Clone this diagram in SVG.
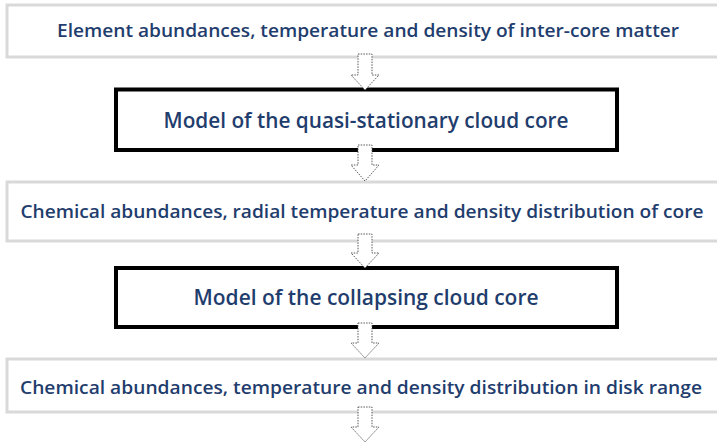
<svg xmlns="http://www.w3.org/2000/svg" width="717" height="445" viewBox="0 0 717 445">
<style>
.bg{fill:#ffffff}
.gbox{fill:#ffffff;stroke:#d9d9d9;stroke-width:3}
.kbox{fill:#ffffff;stroke:#000000;stroke-width:4}
.t{font-family:"Open Sans",Lato,"Liberation Sans",sans-serif;font-weight:600;fill:#1f3d6d;text-anchor:middle;dominant-baseline:central}
.s{font-size:18px}
.l{font-size:21px}
.arr{fill:#ffffff;stroke:#595959;stroke-width:1;stroke-dasharray:1.5 1.2}
</style>
<rect class="bg" x="0" y="0" width="717" height="445"/>
<g id="n1"><rect class="gbox" x="7" y="5" width="720" height="52"/><text class="t s" x="368" y="30" textLength="622" lengthAdjust="spacingAndGlyphs">Element abundances, temperature and density of inter-core matter</text></g>
<g id="n2"><rect class="kbox" x="116" y="89.5" width="501" height="60.5"/><text class="t l" x="366" y="120" textLength="405" lengthAdjust="spacingAndGlyphs">Model of the quasi-stationary cloud core</text></g>
<g id="n3"><rect class="gbox" x="7" y="182" width="720" height="59"/><text class="t s" x="362" y="211" textLength="683" lengthAdjust="spacingAndGlyphs">Chemical abundances, radial temperature and density distribution of core</text></g>
<g id="n4"><rect class="kbox" x="116" y="268" width="501" height="59"/><text class="t l" x="366" y="297" textLength="345" lengthAdjust="spacingAndGlyphs">Model of the collapsing cloud core</text></g>
<g id="n5"><rect class="gbox" x="7" y="359" width="720" height="53"/><text class="t s" x="361" y="387" textLength="682" lengthAdjust="spacingAndGlyphs">Chemical abundances, temperature and density distribution in disk range</text></g>
<g id="connectors">
<path class="arr" d="M358 54 H372 V75 H379 L365 90 L351 75 H358 Z"/>
<path class="arr" d="M358 145 H372 V165 H379 L365 181 L351 165 H358 Z"/>
<path class="arr" d="M358 234 H372 V253 H379 L365 268 L351 253 H358 Z"/>
<path class="arr" d="M358 323 H372 V343 H379 L365 358 L351 343 H358 Z"/>
<path class="arr" d="M358 407 H372 V427 H379 L365 442 L351 427 H358 Z"/>
</g>
</svg>
